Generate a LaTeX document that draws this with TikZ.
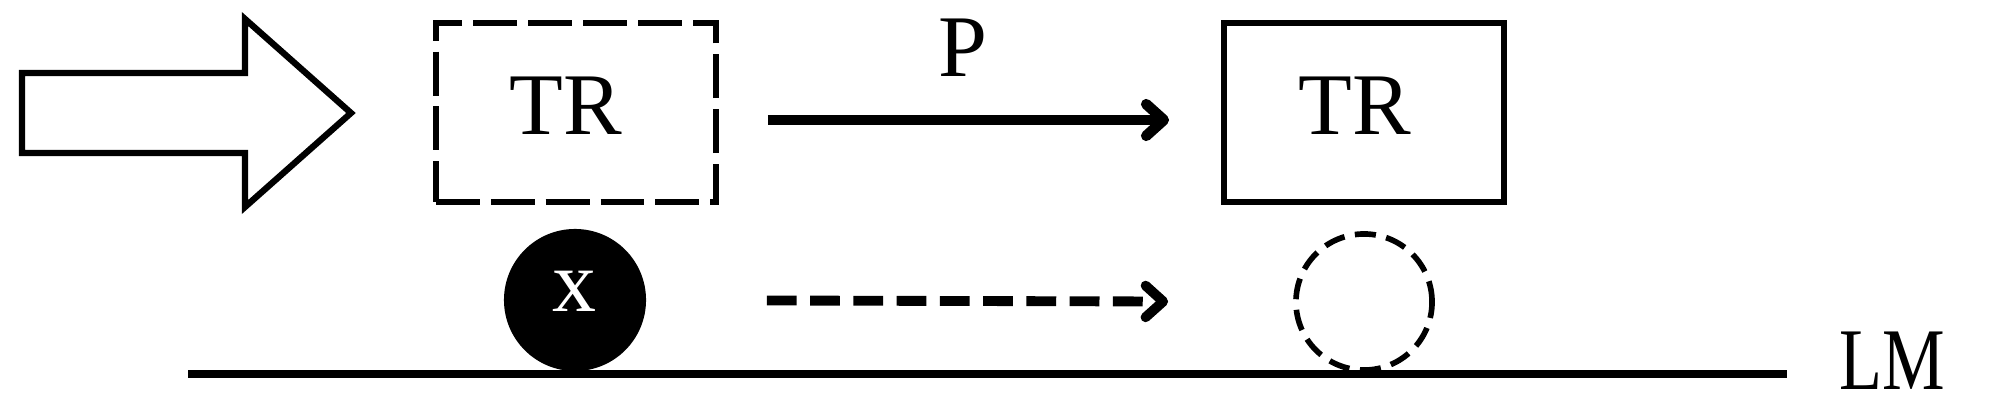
\documentclass[tikz,border=0pt]{standalone}
\usepackage{fontspec}
\setmainfont{Liberation Serif}
\usetikzlibrary{arrows.meta,positioning}

\begin{document}
\begin{tikzpicture}[
    x=0.01cm, y=-0.01cm,
    >={Straight Barb[length=5pt,width=9pt,round]},
    bigfont/.style={font=\fontsize{25}{30}\selectfont},
    trbox/.style={draw, line width=1.6pt, minimum width=2.8cm,
      minimum height=1.79cm, inner sep=0pt, bigfont},
    lbl/.style={inner sep=0pt, bigfont},
  ]
  \useasboundingbox (0,0) rectangle (2000,418);

  % Big incoming arrow
  \draw[line width=1.8pt, line join=miter]
    (22,73) -- (245,73) -- (245,19) -- (351,113) -- (245,207)
    -- (245,153) -- (22,153) -- cycle;

  % Transition boxes
  \node[trbox, dash pattern=on 12.5pt off 3.1pt] (trold) at (576,112.5) {};
  \node[trbox] (trnew) at (1364,112.5) {};
  \node[lbl] (troldtxt) at (566,106) {TR};
  \node[lbl] (trnewtxt) at (1355,106) {TR};

  % Arrow P
  \draw[->, line width=3pt, shorten <=0.49cm, shorten >=0.52cm]
    ([yshift=-0.075cm]trold.east) -- ([yshift=-0.075cm]trnew.west);
  \node[lbl] (plbl) at (963,48) {P};

  % Ball and its empty place
  \node[circle, fill, minimum size=1.42cm, inner sep=0pt] (ball) at (575,300) {};
  \node[lbl, text=white] (balltxt) at (574,291) {x};
  \node[circle, draw, dash pattern=on 6pt off 3pt, line width=1.6pt,
    minimum size=1.36cm, inner sep=0pt] (ghost) at (1364,302) {};

  % Dashed move arrow
  \draw[->, line width=2.8pt, dash pattern=on 8.5pt off 3.8pt,
    shorten <=1.2cm, shorten >=1.25cm]
    (ball) -- (ghost);

  % LM line
  \coordinate (lmstart) at (188,374);
  \coordinate (lmend) at (1787,374);
  \draw[line width=2pt] (lmstart) -- (lmend);
  \node[lbl] (lm) at (1892,361) {\scalebox{0.8}[1]{LM}};

\end{tikzpicture}
\end{document}
